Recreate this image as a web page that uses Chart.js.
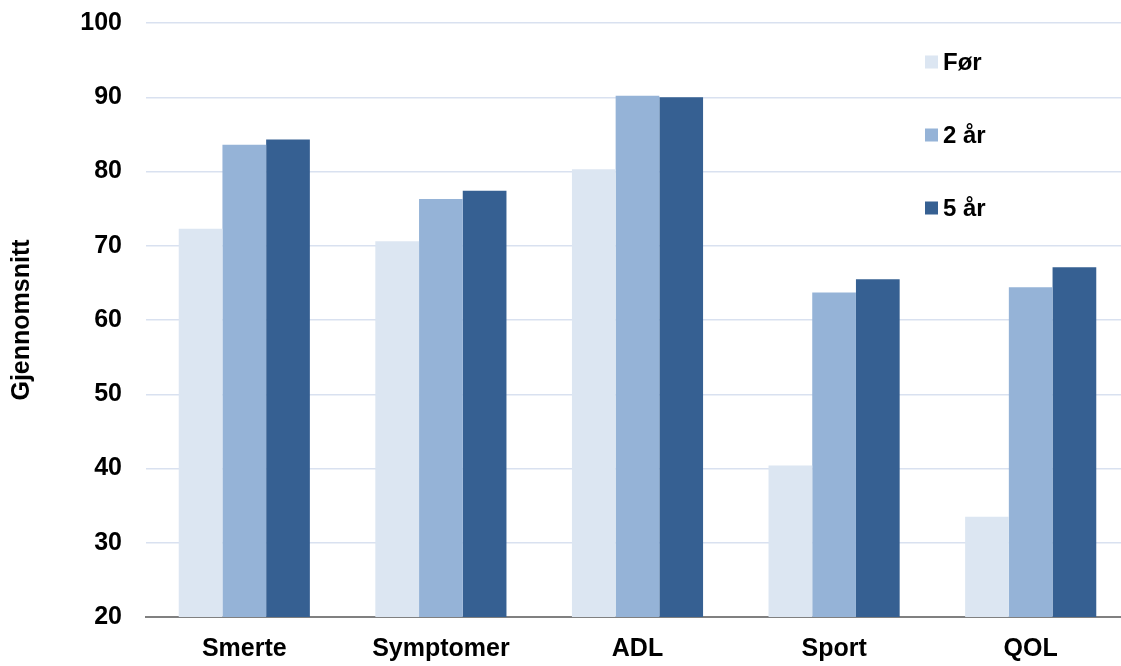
<!DOCTYPE html>
<html>
<head>
<meta charset="utf-8">
<script src="https://cdn.jsdelivr.net/npm/chart.js@4"></script>
<style>
  html, body { margin: 0; padding: 0; background: #ffffff; overflow: hidden; }
  #wrap { position: relative; width: 1129px; height: 666px; }
</style>
</head>
<body>
<div id="wrap"><canvas id="chart"></canvas></div>
<script>
// KOOS-delskårer: gjennomsnitt før operasjon, etter 2 år og etter 5 år
const categories = ['Smerte', 'Symptomer', 'ADL', 'Sport', 'QOL'];
const seriesNames = ['Før', '2 år', '5 år'];
const valuesFor = [72.3, 70.6, 80.3, 40.4, 33.5];
const values2yr = [83.6, 76.3, 90.2, 63.7, 64.4];
const values5yr = [84.3, 77.4, 90.0, 65.5, 67.1];
const yTicks = [20, 30, 40, 50, 60, 70, 80, 90, 100];
const yTitle = 'Gjennomsnitt';

const colors = ['#dce6f2', '#95b3d7', '#366092'];
const FONT = '"Liberation Sans", Arial, sans-serif';

// Legend drawn as a stacked list inside the plot area, upper right
const insideLegend = {
  id: 'insideLegend',
  afterDatasetsDraw(chart) {
    const ctx = chart.ctx;
    const x = 925, y0 = 62, step = 73, box = 13;
    ctx.save();
    ctx.font = 'bold 24px ' + FONT;
    ctx.textBaseline = 'middle';
    ctx.textAlign = 'left';
    chart.data.datasets.forEach((ds, i) => {
      const y = y0 + i * step;
      ctx.fillStyle = ds.backgroundColor;
      ctx.fillRect(x, y - box / 2, box, box);
      ctx.fillStyle = '#000000';
      ctx.fillText(ds.label, x + box + 5, y + 1);
    });
    ctx.restore();
  }
};

new Chart(document.getElementById('chart'), {
  type: 'bar',
  data: {
    labels: categories,
    datasets: [
      { label: seriesNames[0], data: valuesFor, backgroundColor: colors[0] },
      { label: seriesNames[1], data: values2yr, backgroundColor: colors[1] },
      { label: seriesNames[2], data: values5yr, backgroundColor: colors[2] }
    ]
  },
  options: {
    responsive: true,
    maintainAspectRatio: false,
    animation: false,
    layout: { padding: { left: 0, right: 0, top: 23, bottom: 0 } },
    datasets: { bar: { categoryPercentage: 0.667, barPercentage: 1.0 } },
    plugins: {
      legend: { display: false },
      tooltip: { enabled: false }
    },
    scales: {
      x: {
        grid: { display: false, drawTicks: false },
        border: { display: true, color: '#808080', width: 2 },
        ticks: {
          color: '#000000',
          font: { family: FONT, size: 25, weight: 'bold' },
          padding: 17,
          maxRotation: 0
        },
        afterFit(scale) { scale.height = 49; }
      },
      y: {
        min: 20,
        max: 100,
        afterBuildTicks(scale) { scale.ticks = yTicks.map(v => ({ value: v })); },
        grid: { color: '#d9e1f0', lineWidth: 1.5, drawTicks: false },
        border: { display: false },
        ticks: {
          color: '#000000',
          font: { family: FONT, size: 25, weight: 'bold' },
          padding: 24
        },
        title: {
          display: true,
          text: yTitle,
          color: '#000000',
          font: { family: FONT, size: 25, weight: 'bold' },
          padding: { top: 7, bottom: 0 }
        },
        afterFit(scale) {
          scale.width = 146;
          scale.paddingTop = 0;
          scale.paddingBottom = 0;
        }
      }
    }
  },
  plugins: [insideLegend]
});
</script>
</body>
</html>
